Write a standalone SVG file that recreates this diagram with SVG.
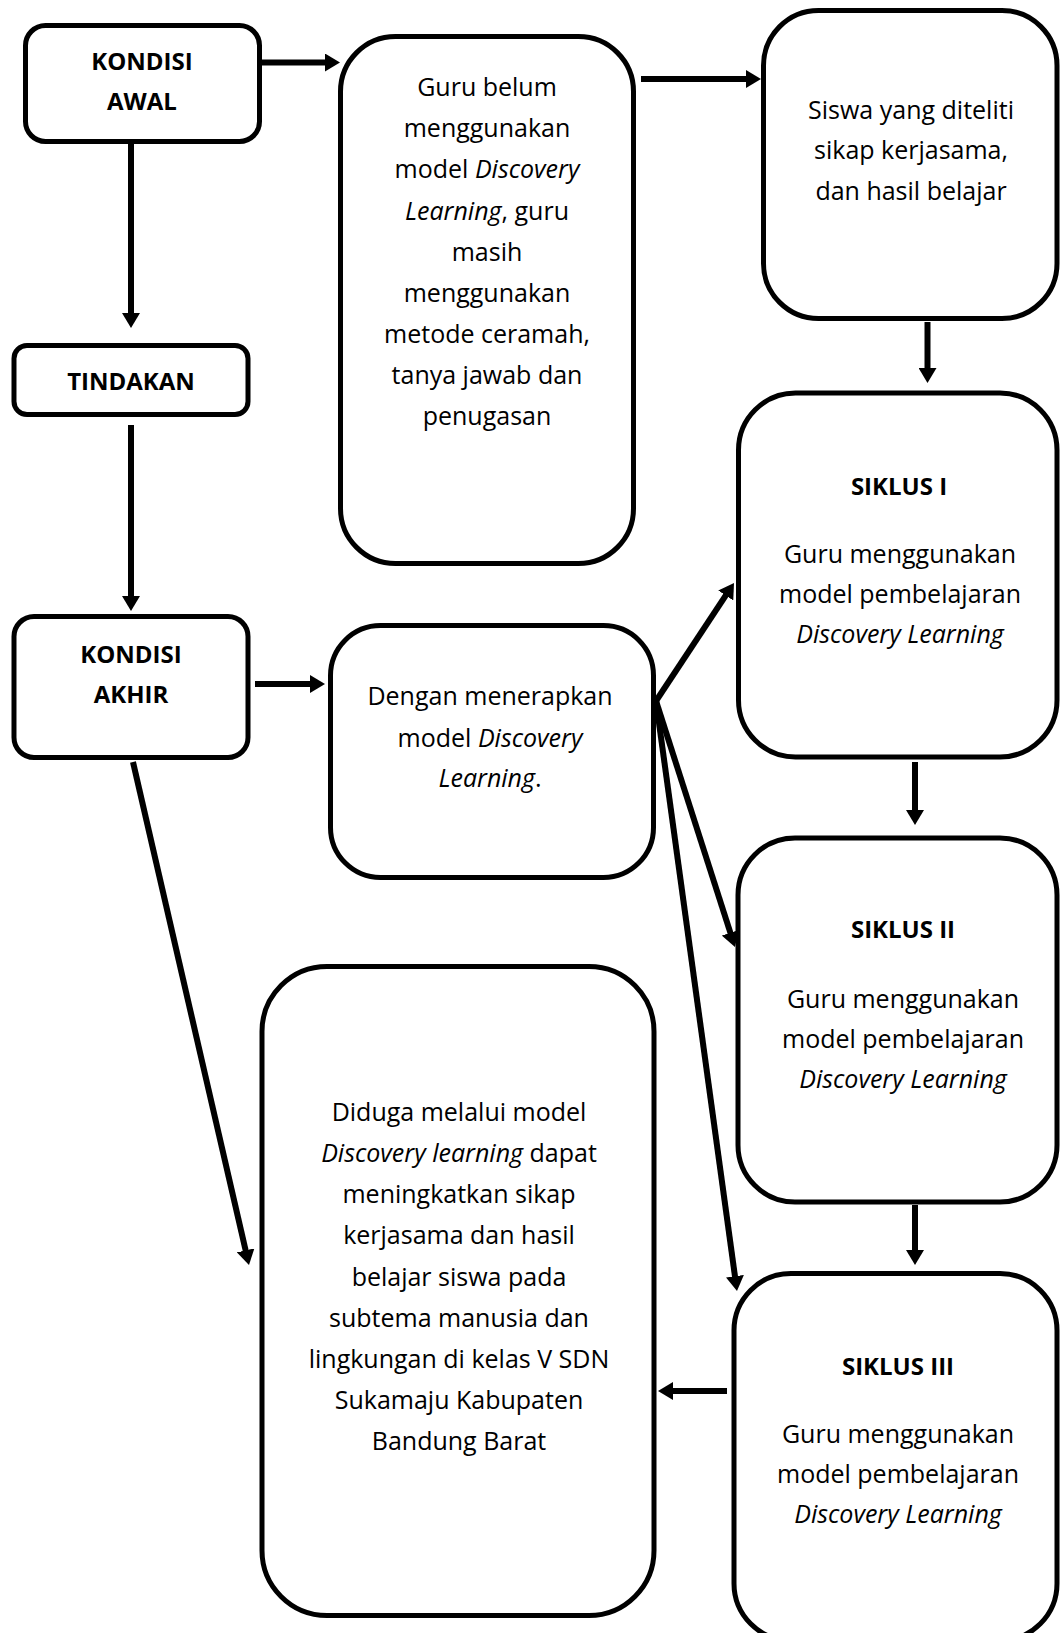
<svg xmlns="http://www.w3.org/2000/svg" width="1060" height="1633" viewBox="0 0 1060 1633">
<style>
.box{fill:#fff;stroke:#000;stroke-width:5}
.t{font-family:"Open Sans","Noto Sans","DejaVu Sans",sans-serif;font-size:25px;fill:#000;text-anchor:middle}
.b{font-weight:bold;font-size:24px}
.i{font-style:italic}
.c{stroke:#000;stroke-width:6;fill:none}
</style>
<defs>
<marker id="ah" markerUnits="userSpaceOnUse" markerWidth="15" markerHeight="18" refX="7" refY="9" orient="auto" viewBox="0 0 15 18">
<path d="M0,0 L15,9 L0,18 Z" fill="#000"/>
</marker>
</defs>
<rect width="1060" height="1633" fill="#fff"/>

<g id="connectors">
<line class="c" x1="262" y1="62.5" x2="332" y2="62.5" marker-end="url(#ah)"/>
<line class="c" x1="131" y1="144" x2="131" y2="320" marker-end="url(#ah)"/>
<line class="c" x1="131" y1="425" x2="131" y2="603" marker-end="url(#ah)"/>
<line class="c" x1="255" y1="684" x2="317" y2="684" marker-end="url(#ah)"/>
<line class="c" x1="641" y1="79" x2="753" y2="79" marker-end="url(#ah)"/>
<line class="c" x1="927.5" y1="322" x2="927.5" y2="375" marker-end="url(#ah)"/>
<line class="c" x1="656" y1="701" x2="729.6" y2="589.7" marker-end="url(#ah)"/>
<line class="c" x1="656" y1="701" x2="732.5" y2="939.4" marker-end="url(#ah)"/>
<line class="c" x1="656" y1="701" x2="735.9" y2="1283.1" marker-end="url(#ah)"/>
<line class="c" x1="915" y1="762" x2="915" y2="817" marker-end="url(#ah)"/>
<line class="c" x1="915" y1="1205" x2="915" y2="1257" marker-end="url(#ah)"/>
<line class="c" x1="727" y1="1391" x2="666" y2="1391" marker-end="url(#ah)"/>
<line class="c" x1="133" y1="762" x2="247.2" y2="1257.2" marker-end="url(#ah)"/>
</g>

<g id="kondisi-awal">
<rect class="box" x="25.5" y="25.5" width="234" height="116" rx="20"/>
<text class="t b" x="142" y="70">KONDISI</text>
<text class="t b" x="142" y="110">AWAL</text>
</g>

<g id="tindakan">
<rect class="box" x="14" y="345.5" width="234" height="69" rx="13"/>
<text class="t b" x="131" y="390">TINDAKAN</text>
</g>

<g id="guru-belum">
<rect class="box" x="340.5" y="36.5" width="293" height="527" rx="55"/>
<text class="t" x="487" y="96">Guru belum</text>
<text class="t" x="487" y="137">menggunakan</text>
<text class="t" x="487" y="178">model <tspan class="i">Discovery</tspan></text>
<text class="t" x="487" y="219.5"><tspan class="i">Learning</tspan>, guru</text>
<text class="t" x="487" y="260.5">masih</text>
<text class="t" x="487" y="301.5">menggunakan</text>
<text class="t" x="487" y="342.5">metode ceramah,</text>
<text class="t" x="487" y="383.5">tanya jawab dan</text>
<text class="t" x="487" y="425">penugasan</text>
</g>

<g id="siswa">
<rect class="box" x="763.5" y="10.5" width="293.5" height="308" rx="55"/>
<text class="t" x="911" y="118.5">Siswa yang diteliti</text>
<text class="t" x="911" y="159">sikap kerjasama,</text>
<text class="t" x="911" y="199.5">dan hasil belajar</text>
</g>

<g id="siklus-1">
<rect class="box" x="738.5" y="393" width="318.5" height="364" rx="57"/>
<text class="t b" x="899" y="495">SIKLUS I</text>
<text class="t" x="900" y="563">Guru menggunakan</text>
<text class="t" x="900" y="603">model pembelajaran</text>
<text class="t i" x="900" y="643">Discovery Learning</text>
</g>

<g id="siklus-2">
<rect class="box" x="738" y="838" width="319" height="364" rx="57"/>
<text class="t b" x="903" y="938">SIKLUS II</text>
<text class="t" x="903" y="1007.5">Guru menggunakan</text>
<text class="t" x="903" y="1047.5">model pembelajaran</text>
<text class="t i" x="903" y="1087.5">Discovery Learning</text>
</g>

<g id="siklus-3">
<rect class="box" x="734" y="1273.5" width="323" height="367" rx="57"/>
<text class="t b" x="898" y="1375">SIKLUS III</text>
<text class="t" x="898" y="1442.5">Guru menggunakan</text>
<text class="t" x="898" y="1483">model pembelajaran</text>
<text class="t i" x="898" y="1523">Discovery Learning</text>
</g>

<g id="kondisi-akhir">
<rect class="box" x="14" y="616.5" width="234" height="141" rx="20"/>
<text class="t b" x="131" y="662.5">KONDISI</text>
<text class="t b" x="131" y="703">AKHIR</text>
</g>

<g id="dengan">
<rect class="box" x="330.5" y="625.5" width="323" height="252" rx="50"/>
<text class="t" x="490" y="705">Dengan menerapkan</text>
<text class="t" x="490" y="746.5">model <tspan class="i">Discovery</tspan></text>
<text class="t" x="490" y="787"><tspan class="i">Learning</tspan>.</text>
</g>

<g id="diduga">
<rect class="box" x="262" y="966.5" width="392" height="649" rx="65"/>
<text class="t" x="459" y="1121">Diduga melalui model</text>
<text class="t" x="459" y="1162"><tspan class="i">Discovery learning</tspan> dapat</text>
<text class="t" x="459" y="1203">meningkatkan sikap</text>
<text class="t" x="459" y="1244">kerjasama dan hasil</text>
<text class="t" x="459" y="1285.5">belajar siswa pada</text>
<text class="t" x="459" y="1326.5">subtema manusia dan</text>
<text class="t" x="459" y="1367.5">lingkungan di kelas V SDN</text>
<text class="t" x="459" y="1408.5">Sukamaju Kabupaten</text>
<text class="t" x="459" y="1450">Bandung Barat</text>
</g>
</svg>
